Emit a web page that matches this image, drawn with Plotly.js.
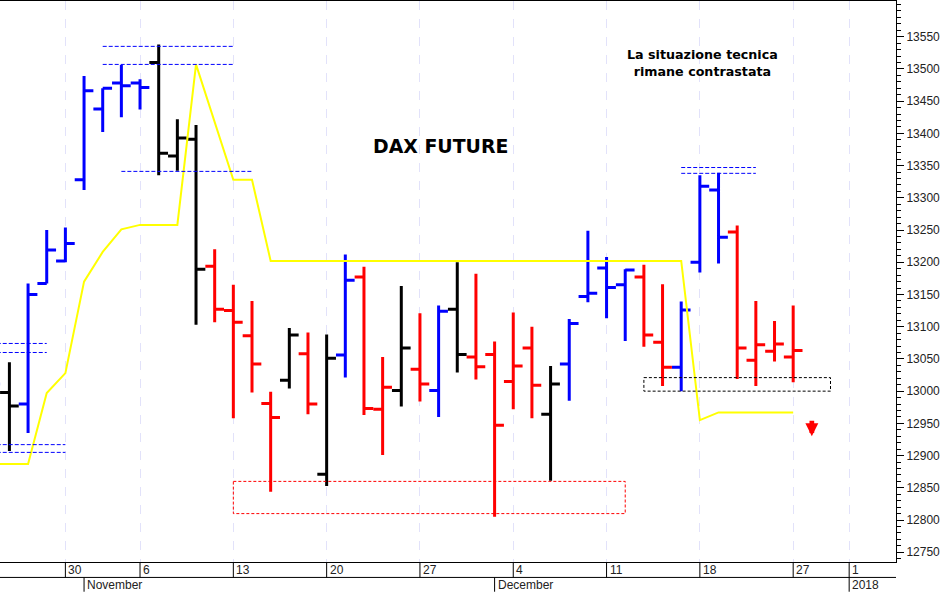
<!DOCTYPE html>
<html>
<head>
<meta charset="utf-8">
<script src="https://cdn.plot.ly/plotly-3.0.1.min.js"></script>
<style>
html, body { margin: 0; padding: 0; background: #fff; }
#chart { width: 945px; height: 592px; }
</style>
</head>
<body>
<div id="chart"></div>
<script>
// trading days, Oct 2017 - Jan 2018 (31 Oct and 25/26 Dec are closed)
var dates = [
	"2017-10-24","2017-10-25","2017-10-26","2017-10-27","2017-10-30","2017-11-01","2017-11-02","2017-11-03",
	"2017-11-06","2017-11-07","2017-11-08","2017-11-09","2017-11-10","2017-11-13","2017-11-14","2017-11-15",
	"2017-11-16","2017-11-17","2017-11-20","2017-11-21","2017-11-22","2017-11-23","2017-11-24","2017-11-27",
	"2017-11-28","2017-11-29","2017-11-30","2017-12-01","2017-12-04","2017-12-05","2017-12-06","2017-12-07",
	"2017-12-08","2017-12-11","2017-12-12","2017-12-13","2017-12-14","2017-12-15","2017-12-18","2017-12-19",
	"2017-12-20","2017-12-21","2017-12-22","2017-12-27"
];
var futureDates = ["2017-12-28","2017-12-29","2018-01-01","2018-01-02","2018-01-03"];

var opens = [
	13030,12998,12980,13167,13202,13328,13438,13478,
	13478,13510,13365,13391,13194,13125,13086,12981,
	13017,13058,12871,13056,13177,12972,13001,13034,
	13001,13127,13053,13057,13015,13067,12964,13042,
	13147,13191,13165,13177,13076,13037,13200,13312,
	13247,13048,13062,13053
];
var highs = [
	13050,13045,13167,13250,13254,13489,13470,13506,
	13484,13538,13422,13413,13220,13165,13140,12999,
	13098,13091,13088,13212,13193,13053,13163,13121,
	13133,13200,13182,13077,13122,13100,13039,13112,
	13249,13208,13189,13196,13166,13139,13335,13339,
	13257,13140,13109,13133
];
var lows = [
	12980,12907,12935,13167,13200,13312,13402,13425,
	13437,13335,13342,13103,13107,12958,12998,12844,
	13004,12964,12853,13021,12963,12901,12976,12984,
	12960,13029,13018,12805,12972,12958,12861,12985,
	13138,13113,13078,13069,13008,13000,13184,13198,
	13019,13008,13046,13014
];
var closes = [
	13011,12977,13150,13219,13229,13466,13470,13474,
	13471,13369,13393,13189,13127,13107,13042,12959,
	13087,12980,13051,13172,12973,13006,13067,13011,
	13124,13057,13038,12947,13039,13009,13011,13105,
	13152,13161,13188,13087,13037,13126,13318,13239,
	13067,13072,13073,13063
];
// signal of each bar: u = rialzo, d = ribasso, n = neutro
var signals = [
	"u","n","u","u","u","u","u","u",
	"u","n","n","n","d","d","d","d",
	"n","d","n","u","d","d","n","d",
	"u","n","d","d","d","d","n","u",
	"u","u","u","d","d","u","u","u",
	"d","d","d","d"
];
var trendLine = [
	12887,12887,12887,12997,13028,13170,13216,13251,
	13258,13258,13258,13507,13418,13328,13328,13202,
	13202,13202,13202,13202,13202,13202,13202,13202,
	13202,13202,13202,13202,13202,13202,13202,13202,
	13202,13202,13202,13202,13202,13202,12955,12967,
	12967,12967,12967,12967
];

var yTicks = [12750,12800,12850,12900,12950,13000,13050,13100,13150,13200,13250,13300,13350,13400,13450,13500,13550];

var dayTickDates = ["2017-10-30","2017-11-06","2017-11-13","2017-11-20","2017-11-27","2017-12-04","2017-12-11","2017-12-18","2017-12-27","2018-01-01"];
var dayTickLabels = ["30","6","13","20","27","4","11","18","27","1"];
var monthDates = ["2017-11-01","2017-12-01","2018-01-01"];
var monthLabels = ["November","December","2018"];

// support / resistance levels: [from, to, value]
var blueLevels = [
	["2017-11-02","2017-11-13",13535],
	["2017-11-02","2017-11-13",13507],
	["2017-11-03","2017-11-14",13341],
	["2017-10-24","2017-10-27",13074],
	["2017-10-24","2017-10-27",13060],
	["2017-10-24","2017-10-30",12917],
	["2017-10-24","2017-10-30",12905],
	["2017-12-15","2017-12-21",13347],
	["2017-12-15","2017-12-21",13338]
];
var redBox = ["2017-11-13","2017-12-12",12860,12810];
var blackBox = ["2017-12-13","2017-12-29",13021,13000];
var arrowDate = "2017-12-28";
var arrowTip = 12930;

var allDates = dates.concat(futureDates);
var signalColors = { u: "#0000ff", d: "#ff0000", n: "#000000" };

function barTrace(signal) {
	var keep = [];
	for (var i = 0; i < dates.length; i++) {
		if (signals[i] === signal) keep.push(i);
	}
	function pick(arr) { return keep.map(function (k) { return arr[k]; }); }
	var line = { line: { color: signalColors[signal], width: 3 } };
	return {
		type: "ohlc",
		x: pick(dates), open: pick(opens), high: pick(highs), low: pick(lows), close: pick(closes),
		increasing: line, decreasing: line,
		tickwidth: 0.5,
		hoverinfo: "skip"
	};
}

var traces = [
	{ type: "scatter", mode: "lines", x: dates, y: trendLine, line: { color: "#ffff00", width: 2 }, hoverinfo: "skip" },
	barTrace("u"), barTrace("d"), barTrace("n")
];

var shapes = [];
blueLevels.forEach(function (l) {
	shapes.push({ type: "line", xref: "x", yref: "y", x0: l[0], x1: l[1], y0: l[2], y1: l[2],
		line: { color: "#0000ff", width: 1, dash: "4px,2px" } });
});
[[redBox, "#ff0000"], [blackBox, "#000000"]].forEach(function (b) {
	shapes.push({ type: "rect", xref: "x", yref: "y", x0: b[0][0], x1: b[0][1], y0: b[0][2], y1: b[0][3],
		line: { color: b[1], width: 1, dash: "3px,2px" } });
});

// date strip under the plot
var rowFont = { family: "Liberation Sans, Arial, sans-serif", size: 12, color: "#222" };
var annotations = [];
function stripLine(date, y0, y1) {
	shapes.push({ type: "line", xref: "x", yref: "paper", x0: date, x1: date, y0: y0, y1: y1,
		line: { color: "#000", width: 1 } });
}
dayTickDates.forEach(function (d, i) {
	stripLine(d, 0, -0.0275);
	annotations.push({ xref: "x", yref: "paper", x: d, y: -0.0145, xanchor: "left", yanchor: "middle", xshift: 1,
		text: dayTickLabels[i], showarrow: false, font: rowFont });
});
monthDates.forEach(function (d, i) {
	stripLine(d, -0.0275, -0.053);
	annotations.push({ xref: "x", yref: "paper", x: d, y: -0.041, xanchor: "left", yanchor: "middle", xshift: 1,
		text: monthLabels[i], showarrow: false, font: rowFont });
});
shapes.push({ type: "line", xref: "paper", yref: "paper", x0: 0, x1: 1, y0: -0.0275, y1: -0.0275,
	line: { color: "#000", width: 1 } });

annotations.push(
	{ xref: "paper", yref: "paper", x: 0.492, y: 0.765, xanchor: "center", text: "<b>DAX FUTURE</b>", showarrow: false,
		font: { family: "DejaVu Sans", size: 18.9, color: "#000" } },
	{ xref: "paper", yref: "paper", x: 0.7845, y: 0.921, xanchor: "center", align: "center", showarrow: false,
		text: "<b>La situazione tecnica<br>rimane contrastata</b>",
		font: { family: "DejaVu Sans", size: 12.7, color: "#000" } },
	{ xref: "x", yref: "y", x: arrowDate, y: arrowTip, text: "", showarrow: true, ax: 0, ay: -17,
		arrowcolor: "#ff0000", arrowwidth: 4.7, arrowhead: 2, arrowsize: 0.55 }
);

var layout = {
	width: 945,
	height: 592,
	margin: { l: 0, r: 49, t: 1, b: 30, pad: 0 },
	paper_bgcolor: "#fff",
	plot_bgcolor: "#fff",
	showlegend: false,
	xaxis: {
		type: "category",
		categoryorder: "array",
		categoryarray: allDates,
		range: [0.496, 48.51],
		tickvals: dayTickDates,
		ticktext: dayTickLabels,
		showticklabels: false,
		ticks: "",
		showgrid: true,
		gridcolor: "#e2e2fa",
		griddash: "dash",
		gridwidth: 1,
		zeroline: false,
		showline: true,
		mirror: true,
		linecolor: "#000",
		linewidth: 1,
		rangeslider: { visible: false }
	},
	yaxis: {
		side: "right",
		range: [12734.9, 13605.4],
		tickvals: yTicks,
		tickformat: "d",
		showgrid: false,
		zeroline: false,
		showline: true,
		linecolor: "#000",
		linewidth: 1,
		ticks: "outside",
		ticklen: 7,
		tickcolor: "#000",
		tickwidth: 1,
		tickfont: { family: "Liberation Sans, Arial, sans-serif", size: 12, color: "#222" },
		minor: { dtick: 10, ticks: "outside", ticklen: 4, tickcolor: "#000", tickwidth: 1, showgrid: false }
	},
	shapes: shapes,
	annotations: annotations
};

Plotly.newPlot("chart", traces, layout, { displayModeBar: false, staticPlot: true });
</script>
</body>
</html>
